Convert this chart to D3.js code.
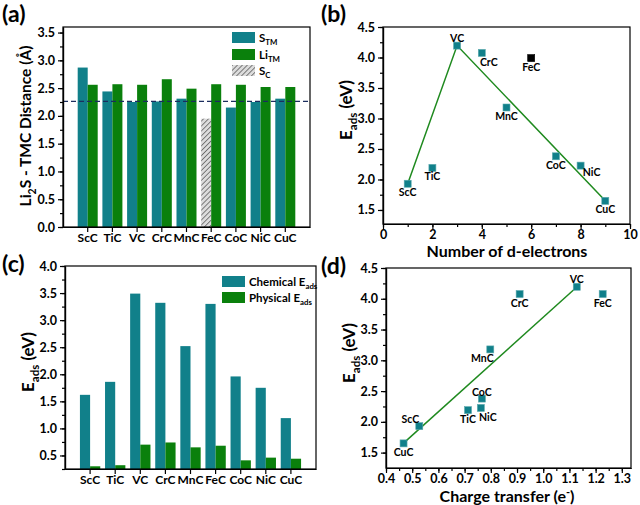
<!DOCTYPE html>
<html>
<head>
<meta charset="utf-8">
<script src="https://d3js.org/d3.v7.min.js"></script>
<style>
  body { margin: 0; background: #fff; }
  svg { font-family: Lato, "Open Sans", sans-serif; font-weight: bold; }
  .axis path, .axis line { stroke: #000; stroke-width: 1.2; }
  .axis text { font-family: Lato, "Open Sans", sans-serif; font-size: 12.5px; font-weight: bold; fill: #000; }
  .cat text { font-size: 12px; }
  .lbl { font-size: 10.5px; }
</style>
</head>
<body>
<svg id="fig" width="640" height="505"></svg>
<script>
// ---- data ----
const cats = ["ScC", "TiC", "VC", "CrC", "MnC", "FeC", "CoC", "NiC", "CuC"];

// (a) Li2S - TMC distance (Å)
const distS  = [2.87, 2.44, 2.25, 2.26, 2.31, 1.95, 2.15, 2.25, 2.31];
const distLi = [2.56, 2.57, 2.56, 2.66, 2.49, 2.57, 2.56, 2.52, 2.52];
const distSKind = ["TM", "TM", "TM", "TM", "TM", "C", "TM", "TM", "TM"];
const distRef = 2.26;

// (b) Eads vs number of d-electrons
const dElec = [1, 2, 3, 4, 5, 6, 7, 8, 9];
const eadsB = [1.93, 2.19, 4.195, 4.075, 3.18, 3.99, 2.38, 2.227, 1.65];
const trendB = ["ScC", "VC", "CuC"];

// (c) chemical / physical Eads
const chemE = [1.62, 1.86, 3.49, 3.32, 2.52, 3.30, 1.96, 1.75, 1.19];
const physE = [0.30, 0.32, 0.70, 0.74, 0.65, 0.68, 0.41, 0.46, 0.44];

// (d) Eads vs charge transfer
const charge = [0.527, 0.713, 1.128, 0.91, 0.798, 1.227, 0.766, 0.762, 0.467];
const eadsD  = [1.93, 2.19, 4.195, 4.077, 3.177, 4.077, 2.378, 2.226, 1.65];
const fitX = [0.467, 1.125];
const fitY = [1.655, 4.18];

// label placement around the scatter points
const placeB = ["b", "b", "t", "br", "b", "b", "b", "br2", "b"];
const placeD = ["tl", "b", "t", "b", "bl", "b", "t2", "br", "b"];
const offs = { b: [0, 12.5], t: [0, -4], br: [7, 13], br2: [11, 10.5], tl: [-9, -3], bl: [-8, 12.5], t2: [0, -3] };

// ---- style ----
const teal = "#11808a", green = "#0a800c", lineGreen = "#1f8a1f";
const svg = d3.select("#fig");

const pat = svg.append("defs").append("pattern")
  .attr("id", "hatch").attr("patternUnits", "userSpaceOnUse")
  .attr("width", 3.5).attr("height", 3.5).attr("patternTransform", "rotate(45)");
pat.append("rect").attr("width", 3.5).attr("height", 3.5).attr("fill", "#dcdcdc");
pat.append("line").attr("x1", 0).attr("y1", 0).attr("x2", 0).attr("y2", 3.5)
  .attr("stroke", "#5a5a5a").attr("stroke-width", 1.5);

function rich(t, parts, size) {
  let shift = 0;
  parts.forEach(function(p) {
    const target = p[1] === "sub" ? size * 0.3 : p[1] === "sup" ? -size * 0.4 : 0;
    t.append("tspan").attr("dy", target - shift)
      .attr("font-size", p[1] ? size * 0.68 : size).text(p[0]);
    shift = target;
  });
  return t;
}

function yTitle(x, y, parts, size) {
  const t = svg.append("text").attr("text-anchor", "middle")
    .attr("transform", "translate(" + x + "," + y + ") rotate(-90)");
  rich(t, parts, size);
}

function xTitle(x, y, parts, size) {
  const t = svg.append("text").attr("text-anchor", "middle").attr("x", x).attr("y", y);
  rich(t, parts, size);
}

function panelLabel(x, y, s) {
  svg.append("text").attr("x", x).attr("y", y).attr("font-size", 23).text(s);
}

function frame(box) {
  svg.append("rect").attr("x", box.l).attr("y", box.t)
    .attr("width", box.r - box.l).attr("height", box.b - box.t)
    .attr("fill", "none").attr("stroke", "#000").attr("stroke-width", 1.2);
}

function leftAxis(box, y, major, minor, fmt) {
  svg.append("g").attr("class", "axis").attr("transform", "translate(" + box.l + ",0)")
    .call(d3.axisLeft(y).tickValues(minor).tickFormat("").tickSize(3).tickSizeOuter(0));
  svg.append("g").attr("class", "axis").attr("transform", "translate(" + box.l + ",0)")
    .call(d3.axisLeft(y).tickValues(major).tickFormat(fmt).tickSize(5).tickPadding(3).tickSizeOuter(0));
}

function bottomAxis(box, x, major, minor, fmt) {
  if (minor) {
    svg.append("g").attr("class", "axis").attr("transform", "translate(0," + box.b + ")")
      .call(d3.axisBottom(x).tickValues(minor).tickFormat("").tickSize(3).tickSizeOuter(0));
  }
  const ax = d3.axisBottom(x).tickSize(5).tickPadding(1).tickSizeOuter(0);
  if (major) ax.tickValues(major);
  if (fmt) ax.tickFormat(fmt);
  svg.append("g").attr("class", major ? "axis" : "axis cat")
    .attr("transform", "translate(0," + box.b + ")").call(ax);
}

function rangeStep(a, b, s) {
  return d3.range(Math.round((b - a) / s) + 1).map(function(i) { return +(a + i * s).toFixed(3); });
}

function legendBox(x, y, fill, parts) {
  svg.append("rect").attr("x", x).attr("y", y).attr("width", 23).attr("height", 11).attr("fill", fill);
  const t = svg.append("text").attr("x", x + 27).attr("y", y + 9.5);
  rich(t, parts, 11.5);
}

function scatter(box, x, y, xs, ys, place, colors) {
  svg.append("g").selectAll("rect").data(cats).join("rect")
    .attr("x", function(d, i) { return x(xs[i]) - 3.5; })
    .attr("y", function(d, i) { return y(ys[i]) - 3.5; })
    .attr("width", 7).attr("height", 7)
    .attr("fill", function(d, i) { return colors[i]; })
    .attr("stroke", function(d, i) { return colors[i] === "#000" ? "#000" : "#5aa9ad"; })
    .attr("stroke-width", 0.6);
  svg.append("g").selectAll("text").data(cats).join("text")
    .attr("class", "lbl").attr("text-anchor", "middle")
    .attr("x", function(d, i) { return x(xs[i]) + offs[place[i]][0]; })
    .attr("y", function(d, i) { return y(ys[i]) + offs[place[i]][1]; })
    .text(function(d) { return d; });
}

const f1 = d3.format(".1f");

// ---- (a) ----
(function() {
  const box = { l: 63, r: 310, t: 27, b: 227 };
  const x = d3.scaleBand().domain(cats).range([box.l, box.r]).paddingInner(0).paddingOuter(0.5);
  const y = d3.scaleLinear().domain([0, 3.6]).range([box.b, box.t]);
  const bw = x.bandwidth() * 0.405;
  svg.append("g").selectAll("rect").data(cats).join("rect")
    .attr("x", function(d) { return x(d) + x.bandwidth() / 2 - bw; })
    .attr("y", function(d, i) { return y(distS[i]); })
    .attr("width", bw).attr("height", function(d, i) { return y(0) - y(distS[i]); })
    .attr("fill", function(d, i) { return distSKind[i] === "C" ? "url(#hatch)" : teal; });
  svg.append("g").selectAll("rect").data(cats).join("rect")
    .attr("x", function(d) { return x(d) + x.bandwidth() / 2; })
    .attr("y", function(d, i) { return y(distLi[i]); })
    .attr("width", bw).attr("height", function(d, i) { return y(0) - y(distLi[i]); })
    .attr("fill", green);
  svg.append("line").attr("x1", box.l).attr("x2", box.r)
    .attr("y1", y(distRef)).attr("y2", y(distRef))
    .attr("stroke", "#1b2d5e").attr("stroke-width", 1.3).attr("stroke-dasharray", "5,3");
  frame(box);
  leftAxis(box, y, rangeStep(0, 3.5, 0.5), rangeStep(0, 3.5, 0.25), f1);
  bottomAxis(box, x);
  legendBox(232, 32, teal, [["S", ""], ["TM", "sub"]]);
  legendBox(232, 49, green, [["Li", ""], ["TM", "sub"]]);
  legendBox(232, 65, "url(#hatch)", [["S", ""], ["C", "sub"]]);
  yTitle(31, 126, [["Li", ""], ["2", "sub"], ["S - TMC Distance (Å)", ""]], 15.5);
  panelLabel(2, 22, "(a)");
})();

// ---- (b) ----
(function() {
  const box = { l: 383, r: 630, t: 27, b: 224 };
  const x = d3.scaleLinear().domain([0, 10]).range([box.l, box.r]);
  const y = d3.scaleLinear().domain([1.27, 4.5]).range([box.b, box.t]);
  const line = d3.line().x(function(d) { return x(dElec[cats.indexOf(d)]); })
    .y(function(d) { return y(eadsB[cats.indexOf(d)]); });
  svg.append("path").attr("d", line(trendB)).attr("fill", "none")
    .attr("stroke", lineGreen).attr("stroke-width", 1.5);
  scatter(box, x, y, dElec, eadsB, placeB, cats.map(function(c) { return c === "FeC" ? "#000" : teal; }));
  frame(box);
  leftAxis(box, y, rangeStep(1.5, 4.5, 0.5), rangeStep(1.5, 4.5, 0.25), f1);
  bottomAxis(box, x, rangeStep(0, 10, 2), rangeStep(0, 10, 1), d3.format("d"));
  yTitle(352, 110, [["E", ""], ["ads", "sub"], [" (eV)", ""]], 17);
  xTitle(507, 257, [["Number of d-electrons", ""]], 16);
  panelLabel(321, 22, "(b)");
})();

// ---- (c) ----
(function() {
  const box = { l: 65, r: 316, t: 266, b: 469 };
  const x = d3.scaleBand().domain(cats).range([box.l, box.r]).paddingInner(0).paddingOuter(0.5);
  const y = d3.scaleLinear().domain([0.25, 4.0]).range([box.b, box.t]);
  const bw = x.bandwidth() * 0.405;
  svg.append("g").selectAll("rect").data(cats).join("rect")
    .attr("x", function(d) { return x(d) + x.bandwidth() / 2 - bw; })
    .attr("y", function(d, i) { return y(chemE[i]); })
    .attr("width", bw).attr("height", function(d, i) { return box.b - y(chemE[i]); })
    .attr("fill", teal);
  svg.append("g").selectAll("rect").data(cats).join("rect")
    .attr("x", function(d) { return x(d) + x.bandwidth() / 2; })
    .attr("y", function(d, i) { return y(physE[i]); })
    .attr("width", bw).attr("height", function(d, i) { return box.b - y(physE[i]); })
    .attr("fill", green);
  frame(box);
  leftAxis(box, y, rangeStep(0.5, 4.0, 0.5), rangeStep(0.25, 4.0, 0.25), f1);
  bottomAxis(box, x);
  legendBox(222, 276, teal, [["Chemical E", ""], ["ads", "sub"]]);
  legendBox(222, 292, green, [["Physical E", ""], ["ads", "sub"]]);
  yTitle(34, 362, [["E", ""], ["ads", "sub"], [" (eV)", ""]], 17);
  panelLabel(2, 272, "(c)");
})();

// ---- (d) ----
(function() {
  const box = { l: 386, r: 631, t: 268, b: 468 };
  const x = d3.scaleLinear().domain([0.4, 1.335]).range([box.l, box.r]);
  const y = d3.scaleLinear().domain([1.25, 4.5]).range([box.b, box.t]);
  svg.append("line").attr("x1", x(fitX[0])).attr("y1", y(fitY[0]))
    .attr("x2", x(fitX[1])).attr("y2", y(fitY[1]))
    .attr("stroke", lineGreen).attr("stroke-width", 1.5);
  scatter(box, x, y, charge, eadsD, placeD, cats.map(function() { return teal; }));
  frame(box);
  leftAxis(box, y, rangeStep(1.5, 4.5, 0.5), rangeStep(1.5, 4.5, 0.25), f1);
  bottomAxis(box, x, rangeStep(0.4, 1.3, 0.1), rangeStep(0.4, 1.3, 0.05), f1);
  yTitle(355, 353, [["E", ""], ["ads", "sub"], [" (eV)", ""]], 17);
  xTitle(507, 502, [["Charge transfer (e", ""], ["-", "sup"], [")", ""]], 16);
  panelLabel(321, 274, "(d)");
})();
</script>
</body>
</html>
